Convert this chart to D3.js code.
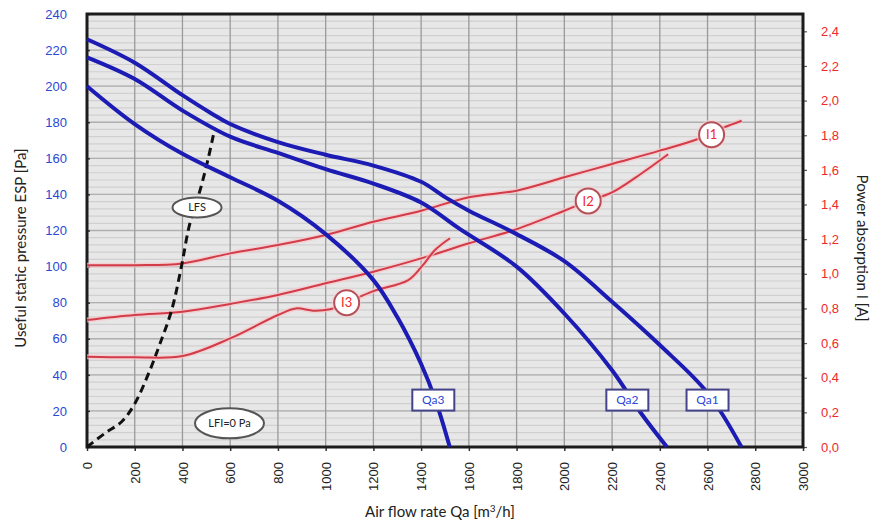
<!DOCTYPE html>
<html><head><meta charset="utf-8">
<script src="https://cdn.jsdelivr.net/npm/d3@7"></script>
<style>
html,body{margin:0;padding:0;background:#fff;}
svg{display:block;font-family:"Lato","Open Sans","DejaVu Sans",sans-serif;}
</style></head>
<body>
<svg id="chart" width="881" height="528"></svg>
<script>
// ---- tick labels ----
const flowTicks = [0,200,400,600,800,1000,1200,1400,1600,1800,2000,2200,2400,2600,2800,3000];
const pressureTicks = [0,20,40,60,80,100,120,140,160,180,200,220,240];
const currentTicks = [0,0.2,0.4,0.6,0.8,1.0,1.2,1.4,1.6,1.8,2.0,2.2,2.4];

// ---- pressure curves [flow m3/h, ESP Pa] ----
const qa1 = [[0,226],[200,213],[400,195],[520,185],[600,179],[800,169],[1000,162],[1200,156],[1400,147],[1500,138.5],[1600,131],[1800,118],[2000,103],[2200,80.5],[2400,56.5],[2600,30],[2742,0]];
const qa2 = [[0,216],[200,204],[400,186.5],[600,172],[800,163],[1000,154],[1200,146],[1400,135.5],[1560,121],[1800,100],[2000,74],[2200,42.5],[2320,19],[2430,0]];
const qa3 = [[0,200],[200,179],[400,162.5],[600,149.5],[800,136.5],[1000,118],[1200,92.5],[1300,72],[1400,46],[1460,26],[1520,0]];

// ---- current curves [flow m3/h, I A] ----
const i1 = [[0,1.05],[200,1.05],[400,1.06],[600,1.118],[800,1.166],[1000,1.224],[1200,1.3],[1400,1.364],[1600,1.442],[1800,1.48],[2000,1.557],[2200,1.634],[2400,1.711],[2560,1.778],[2670,1.846],[2743,1.884]];
const i2 = [[0,0.733],[200,0.762],[400,0.781],[600,0.826],[800,0.878],[1000,0.945],[1200,1.012],[1400,1.089],[1600,1.176],[1790,1.253],[2000,1.364],[2100,1.42],[2200,1.47],[2320,1.576],[2435,1.69]];
const i3 = [[0,0.521],[200,0.518],[400,0.525],[600,0.627],[800,0.762],[875,0.8],[948,0.787],[1018,0.795],[1088,0.833],[1200,0.9],[1346,0.964],[1402,1.041],[1458,1.137],[1521,1.205]];

// ---- LFS curve [flow, Pa] ----
const lfs = [[0,0],[75,7.6],[145,14],[200,24],[265,43],[305,57],[355,76],[397,101],[424,120],[450,133],[473,142],[508,160],[536,177]];

// ---- labels ----
const qaLabels = [{t:"Qa3",x:1451,y:26},{t:"Qa2",x:2264,y:26},{t:"Qa1",x:2600,y:26}];
const iLabels = [{t:"I1",x:2617,y:1.803},{t:"I2",x:2100,y:1.421},{t:"I3",x:1088,y:0.833}];
const ovalLabels = [{t:"LFS",x:461,y:132.8,rx:24.5,ry:10},{t:"LFI=0 Pa",x:597,y:13.1,rx:34.5,ry:15}];

const svg = d3.select("#chart");
const L=87, T=14, W=716, H=433;
const x = d3.scaleLinear().domain([0,3000]).range([L,L+W]);
const y = d3.scaleLinear().domain([0,240]).range([T+H,T]);
const yr = d3.scaleLinear().domain([0,2.5]).range([T+H,T]);

// background
svg.append("rect").attr("x",L).attr("y",T).attr("width",W).attr("height",H).attr("fill","#e7e7e7");
// minor horizontal stripes
const minor = d3.range(0,241,4);
svg.append("g").selectAll("line").data(minor).join("line")
  .attr("x1",L).attr("x2",L+W).attr("y1",d=>y(d)).attr("y2",d=>y(d))
  .attr("stroke","#d0d0d0").attr("stroke-width",1.2);
// major horizontal grid
svg.append("g").selectAll("line").data(pressureTicks).join("line")
  .attr("x1",L).attr("x2",L+W).attr("y1",d=>y(d)).attr("y2",d=>y(d))
  .attr("stroke","#b0b0b0").attr("stroke-width",1.3);
// vertical grid
svg.append("g").selectAll("line").data(flowTicks).join("line")
  .attr("x1",d=>x(d)).attr("x2",d=>x(d)).attr("y1",T).attr("y2",T+H)
  .attr("stroke","#9a9a9a").attr("stroke-width",1.3);

// axes
const ax = svg.append("g").attr("transform",`translate(0,${T+H})`)
  .call(d3.axisBottom(x).tickValues(flowTicks).tickSize(4).tickFormat(d3.format("d")));
ax.select(".domain").remove();
ax.selectAll("line").attr("stroke","#333").attr("stroke-width",1.5);
ax.selectAll("text").attr("transform","rotate(-90)").attr("text-anchor","end")
  .attr("x",-15).attr("y",0).attr("dy","0.35em").attr("fill","#222").style("font-size","13px");

const ay = svg.append("g").attr("transform",`translate(${L},0)`)
  .call(d3.axisLeft(y).tickValues(pressureTicks).tickSize(5).tickPadding(15));
ay.select(".domain").remove();
ay.selectAll("line").attr("stroke","#333").attr("stroke-width",1.5).attr("x2",3);
ay.selectAll("text").attr("fill","#2a47d6").style("font-size","13px");

const ayr = svg.append("g").attr("transform",`translate(${L+W},0)`)
  .call(d3.axisRight(yr).tickValues(currentTicks).tickSize(4).tickPadding(14).tickFormat(d=>d3.format(".1f")(d).replace(".",",")));
ayr.select(".domain").remove();
ayr.selectAll("line").attr("stroke","#555").attr("stroke-width",1.2);
ayr.selectAll("text").attr("fill","#f0282a").style("font-size","13px");

// frame
svg.append("rect").attr("x",L).attr("y",T).attr("width",W).attr("height",H)
  .attr("fill","none").attr("stroke","#1c1c1c").attr("stroke-width",3);

// current curves
const lineR = d3.line().x(d=>x(d[0])).y(d=>yr(d[1])).curve(d3.curveCatmullRom.alpha(0.5));
[i1,i2,i3].forEach(s=>{
  svg.append("path").datum(s).attr("d",lineR).attr("fill","none").attr("stroke","#f6c8cc").attr("stroke-width",5).attr("opacity",0.7);
  svg.append("path").datum(s).attr("d",lineR).attr("fill","none").attr("stroke","#d23c48").attr("stroke-width",2);
});

// LFS dashed
const lineP = d3.line().x(d=>x(d[0])).y(d=>y(d[1])).curve(d3.curveCatmullRom.alpha(0.5));
svg.append("path").datum(lfs).attr("d",lineP).attr("fill","none").attr("stroke","#111")
  .attr("stroke-width",3).attr("stroke-dasharray","8,5");

// pressure curves
[qa1,qa2,qa3].forEach(s=>{
  svg.append("path").datum(s).attr("d",lineP).attr("fill","none").attr("stroke","#1c1cb4").attr("stroke-width",4);
});

// Qa labels
const qg = svg.append("g").selectAll("g").data(qaLabels).join("g")
  .attr("transform",d=>`translate(${x(d.x)},${y(d.y)})`);
qg.append("rect").attr("x",-21).attr("y",-10.5).attr("width",42).attr("height",21)
  .attr("fill","#fff").attr("stroke","#44448a").attr("stroke-width",2);
qg.append("text").text(d=>d.t).attr("text-anchor","middle").attr("dy","0.36em")
  .attr("fill","#2a47d6").style("font-size","12px");

// I labels
const ig = svg.append("g").selectAll("g").data(iLabels).join("g")
  .attr("transform",d=>`translate(${x(d.x)},${yr(d.y)})`);
ig.append("circle").attr("r",15).attr("fill","#f8d4d6").attr("opacity",0.6);
ig.append("circle").attr("r",12.5).attr("fill","#fff").attr("stroke","#b45058").attr("stroke-width",2);
ig.append("text").text(d=>d.t).attr("text-anchor","middle").attr("dy","0.36em")
  .attr("fill","#f0282a").style("font-size","13px");

// oval labels
const og = svg.append("g").selectAll("g").data(ovalLabels).join("g")
  .attr("transform",d=>`translate(${x(d.x)},${y(d.y)})`);
og.append("ellipse").attr("rx",d=>d.rx).attr("ry",d=>d.ry).attr("fill","#fff").attr("stroke","#555").attr("stroke-width",2);
og.append("text").text(d=>d.t).attr("text-anchor","middle").attr("dy","0.36em")
  .attr("fill","#222").style("font-size","11px");

// titles
svg.append("text").attr("x",440).attr("y",517).attr("text-anchor","middle")
  .attr("fill","#222").style("font-size","15px")
  .html('Air flow rate Qa [m<tspan dy="-5" font-size="10">3</tspan><tspan dy="5">/h]</tspan>');
svg.append("text").attr("transform","translate(26,248) rotate(-90)").attr("text-anchor","middle")
  .attr("fill","#222").style("font-size","15px").text("Useful static pressure ESP [Pa]");
svg.append("text").attr("transform","translate(857,248) rotate(90)").attr("text-anchor","middle")
  .attr("fill","#222").style("font-size","15px").text("Power absorption I [A]");
</script>
</body></html>
